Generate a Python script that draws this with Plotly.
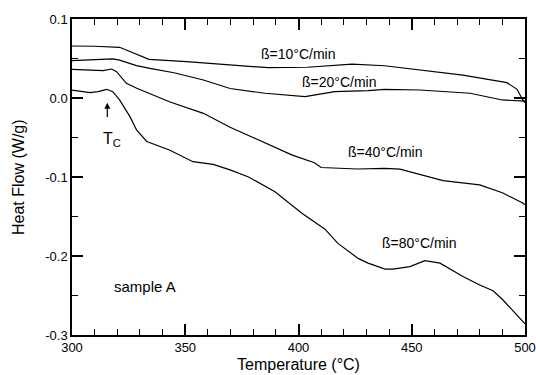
import plotly.graph_objects as go

# beta = 10 C/min
t10 = [300, 310, 321, 334, 350.6, 369.8, 386.5, 404, 423.6, 438, 450.6, 472.6, 492, 496.5, 499, 500]
h10 = [0.0658, 0.0655, 0.0642, 0.049, 0.046, 0.0415, 0.0384, 0.0389, 0.043, 0.0408, 0.0367, 0.029, 0.0194, 0.011, -0.0025, -0.006]

# beta = 20 C/min
t20 = [300, 310.9, 318, 321, 328.5, 334.4, 345, 358, 369.8, 385.2, 402.9, 416, 430.7, 438, 453.6, 475.7, 490, 500]
h20 = [0.0472, 0.048, 0.0494, 0.048, 0.041, 0.0376, 0.032, 0.0228, 0.012, 0.006, 0.0017, 0.008, 0.0093, 0.011, 0.0101, 0.006, -0.0025, -0.004]

# beta = 40 C/min
t40 = [300, 308, 313.7, 317.5, 319.7, 324, 328.6, 343, 358, 369.8, 382, 397, 407, 410, 426, 438, 444.8, 463.8, 480, 490, 499, 500]
h40 = [0.0363, 0.0354, 0.0346, 0.0367, 0.0333, 0.0186, 0.0123, -0.0047, -0.0194, -0.037, -0.053, -0.072, -0.082, -0.088, -0.0899, -0.089, -0.090, -0.1046, -0.110, -0.12, -0.133, -0.135]

# beta = 80 C/min
t80 = [300, 308, 311.5, 315.3, 318, 321, 325.6, 328.5, 333, 343, 353.4, 362.3, 369.8, 377.7, 389.6, 401.5, 411.7,
       417.4, 426.3, 430.7, 438.2, 441.7, 449.2, 455.8, 462.5, 472.6, 480, 485.9, 490.3, 499, 500]
h80 = [0.010, 0.0067, 0.008, 0.011, 0.008, -0.0025, -0.0236, -0.0405, -0.055, -0.0658, -0.0806, -0.084, -0.091, -0.0996,
       -0.1186, -0.146, -0.166, -0.184, -0.203, -0.209, -0.2165, -0.2165, -0.2135, -0.206, -0.209, -0.226, -0.2367,
       -0.244, -0.2557, -0.283, -0.286]

series = [(t10, h10), (t20, h20), (t40, h40), (t80, h80)]

labels = ["ß=10°C/min", "ß=20°C/min", "ß=40°C/min", "ß=80°C/min"]
label_x = [399.6, 417.9, 438.2, 453.2]
label_y = [0.0557, 0.0206, -0.068, -0.184]

yticks = [-0.3, -0.2, -0.1, 0.0, 0.1]
yticktext = ["-0.3", "-0.2", "-0.1", "0.0", "0.1"]
xticks = [300, 350, 400, 450, 500]

FONT = "Liberation Sans, Arial, sans-serif"

fig = go.Figure()
for t, h in series:
    fig.add_trace(go.Scatter(x=t, y=h, mode="lines", line=dict(color="black", width=1.2),
                             showlegend=False, hoverinfo="skip"))

for txt, lx, ly in zip(labels, label_x, label_y):
    fig.add_annotation(x=lx, y=ly, text=txt, showarrow=False, font=dict(size=14, color="black", family=FONT))

fig.add_annotation(x=332.2, y=-0.239, text="sample A", showarrow=False,
                   font=dict(size=15, color="black", family=FONT))

# Tc arrow
fig.add_annotation(x=315.6, y=-0.006, ax=315.6, ay=-0.026, axref="x", ayref="y", xref="x", yref="y",
                   text="", showarrow=True, arrowhead=2, arrowsize=1, arrowwidth=1.2, arrowcolor="black")
fig.add_annotation(x=317.6, y=-0.052, text="T<sub>C</sub>", showarrow=False,
                   font=dict(size=16, color="black", family=FONT))

# y axis title
fig.add_annotation(xref="paper", yref="paper", x=(18 - 72) / 453, y=0.5, xanchor="center", yanchor="middle",
                   text="Heat Flow (W/g)", textangle=-90, showarrow=False,
                   font=dict(size=16, color="black", family=FONT))

axis_common = dict(showgrid=False, zeroline=False, showline=True, linecolor="black", linewidth=1.5,
                   mirror="ticks", ticks="inside", tickcolor="black", tickwidth=1.5, ticklen=11,
                   automargin=False,
                   tickfont=dict(size=13, color="black", family=FONT))

fig.update_xaxes(range=[300, 500], tickmode="array", tickvals=xticks,
                 minor=dict(tickmode="linear", tick0=300, dtick=10, ticks="inside", ticklen=6,
                            tickcolor="black", tickwidth=1.3),
                 title=dict(text="Temperature (°C)", font=dict(size=16, color="black", family=FONT), standoff=4),
                 **axis_common)
fig.update_yaxes(range=[-0.3, 0.1], tickmode="array", tickvals=yticks, ticktext=yticktext,
                 minor=dict(tickmode="linear", tick0=-0.3, dtick=0.05, ticks="inside", ticklen=6,
                            tickcolor="black", tickwidth=1.3),
                 **axis_common)

fig.update_layout(width=536, height=375, margin=dict(l=72, r=11, t=19, b=40),
                  plot_bgcolor="white", paper_bgcolor="white", font=dict(family=FONT, color="black"))

fig.write_html("out.html")
